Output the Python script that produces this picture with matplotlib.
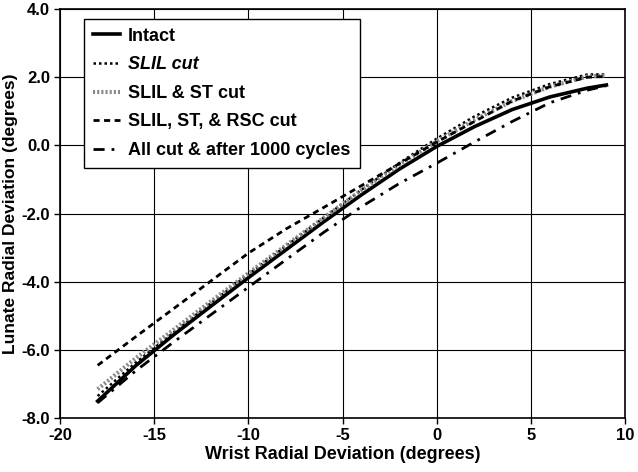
import matplotlib
matplotlib.use("Agg")
import matplotlib.pyplot as plt

plt.rcParams["font.family"] = ["Liberation Sans", "DejaVu Sans"]
plt.rcParams["font.weight"] = "bold"
plt.rcParams["axes.unicode_minus"] = False

# wrist radial deviation (degrees)
wrist = [-18, -16, -14, -12, -10, -8, -6, -4, -2, 0, 2, 4, 6, 8, 9]

# lunate radial deviation (degrees)
intact = [-7.50, -6.47, -5.57, -4.72, -3.88, -3.06, -2.24, -1.45, -0.70, -0.03,
          0.55, 1.05, 1.42, 1.68, 1.77]
slil_cut = [-7.35, -6.38, -5.50, -4.63, -3.78, -2.95, -2.12, -1.30, -0.52, 0.20,
            0.85, 1.40, 1.80, 2.08, 2.08]
slil_st_cut = [-7.15, -6.25, -5.42, -4.58, -3.75, -2.93, -2.12, -1.32, -0.58, 0.12,
               0.75, 1.30, 1.72, 2.02, 2.05]
slil_st_rsc_cut = [-6.45, -5.62, -4.80, -3.98, -3.16, -2.45, -1.82, -1.18, -0.54, 0.10,
                   0.70, 1.30, 1.72, 2.00, 2.02]
all_cut_1000 = [-7.55, -6.62, -5.78, -4.97, -4.16, -3.35, -2.55, -1.80, -1.12, -0.52,
                0.10, 0.70, 1.25, 1.62, 1.75]

labels = ["Intact", "SLIL cut", "SLIL & ST cut", "SLIL, ST, & RSC cut",
          "All cut & after 1000 cycles"]

fig = plt.figure(figsize=(6.38, 4.72), dpi=100)
ax = fig.add_axes([0.094, 0.114, 0.886, 0.867])

ax.plot(wrist, intact, color="black", linewidth=2.6, linestyle="-", label=labels[0])
ax.plot(wrist, slil_cut, color="black", linewidth=1.8, linestyle=(0, (1, 1.2)),
        label=labels[1])
ax.plot(wrist, slil_st_cut, color="#8a8a8a", linewidth=3.0, linestyle=(0, (0.5, 0.5)),
        label=labels[2])
ax.plot(wrist, slil_st_rsc_cut, color="black", linewidth=2.0, linestyle=(0, (2.2, 1.6)),
        label=labels[3])
ax.plot(wrist, all_cut_1000, color="black", linewidth=2.0,
        linestyle=(0, (4, 2.5, 1, 2.5)), label=labels[4])

ax.set_xlim(-20, 10)
ax.set_ylim(-8, 4)
ax.set_xticks([-20, -15, -10, -5, 0, 5, 10])
ax.set_yticks([-8, -6, -4, -2, 0, 2, 4])
ax.set_yticklabels([f"{v:.1f}" for v in [-8, -6, -4, -2, 0, 2, 4]])
ax.tick_params(direction="out", length=4, width=1, labelsize=12, pad=3)
for lab in ax.get_xticklabels() + ax.get_yticklabels():
    lab.set_fontweight("bold")

ax.grid(True, color="black", linewidth=0.8)
ax.set_axisbelow(True)
for spine in ax.spines.values():
    spine.set_linewidth(1.2)

ax.set_xlabel("Wrist Radial Deviation (degrees)", fontsize=13, fontweight="bold",
              labelpad=2)
ax.set_ylabel("Lunate Radial Deviation (degrees)", fontsize=12.5, fontweight="bold",
              labelpad=3)

leg = ax.legend(loc="upper left", bbox_to_anchor=(0.0425, 0.976), borderaxespad=0,
                fancybox=False, framealpha=1, edgecolor="black", fontsize=13,
                handlelength=1.5, handletextpad=0.45, labelspacing=0.64,
                borderpad=0.5)
leg.get_frame().set_linewidth(1.0)
for i, txt in enumerate(leg.get_texts()):
    txt.set_fontweight("bold")
    if i == 1:
        txt.set_fontstyle("italic")

fig.savefig("out.png", dpi=100)
